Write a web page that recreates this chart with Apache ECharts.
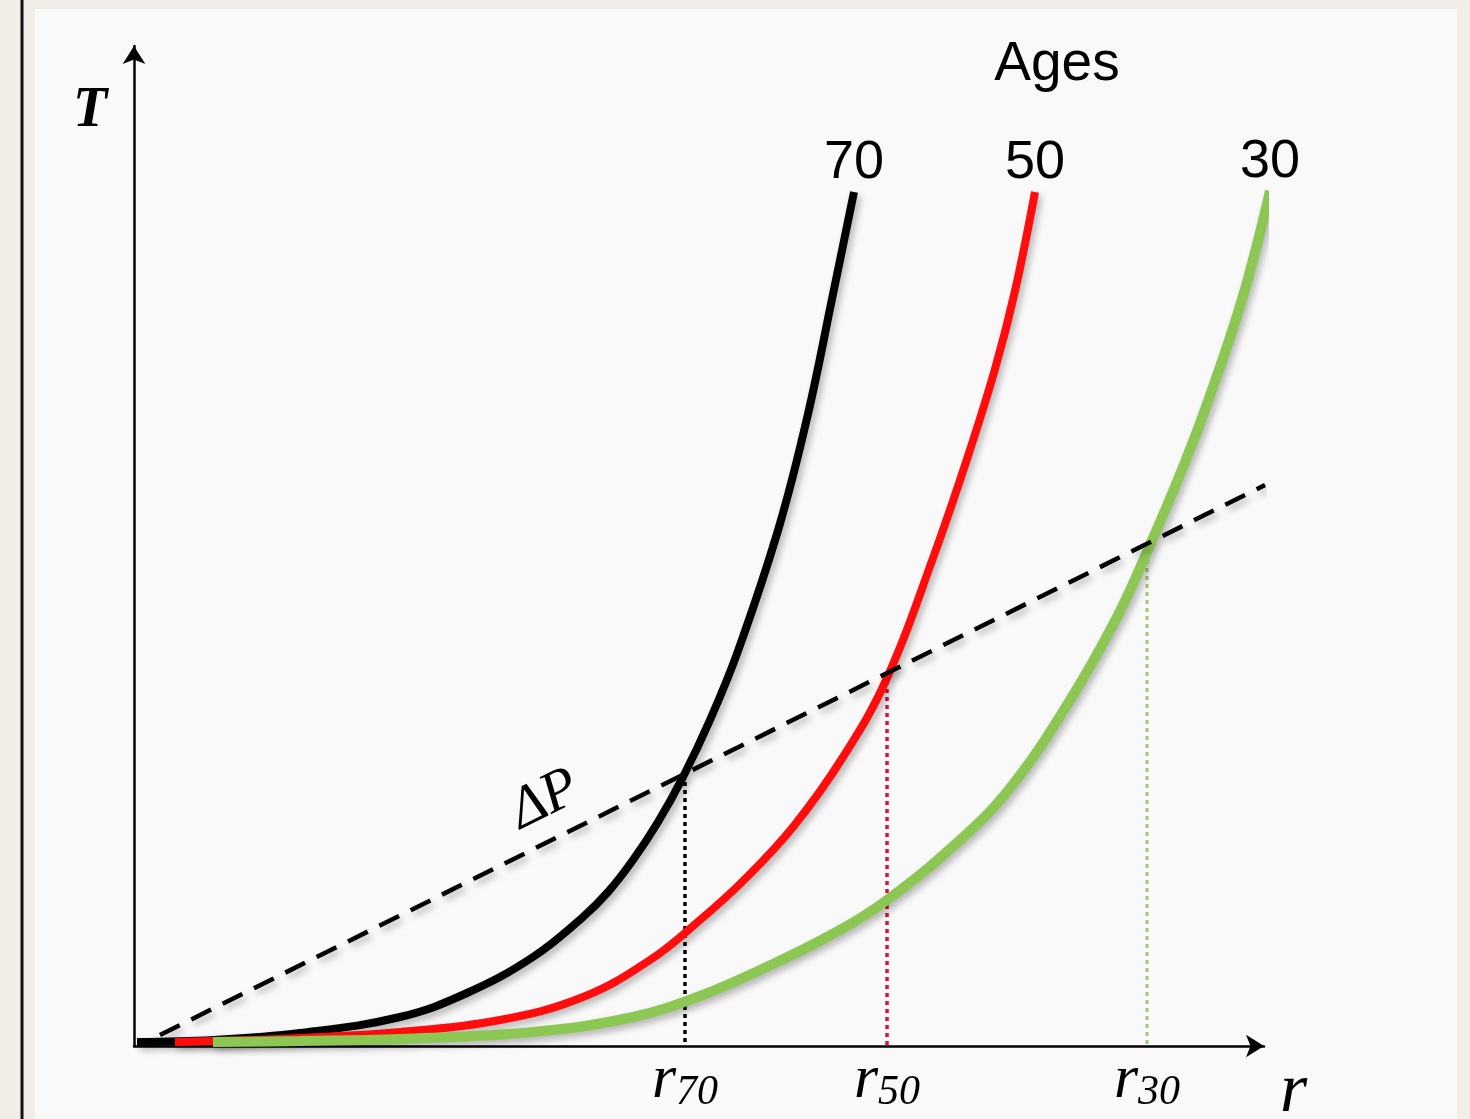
<!DOCTYPE html>
<html lang="en">
<head>
    <meta charset="UTF-8">
    <title>T vs r by age</title>
    <style type="text/css">
        html, body {
            margin: 0;
            padding: 0;
            background: #f1eee7;
        }

        #chart {
            width: 1470px;
            height: 1119px;
        }
    </style>
</head>
<body>
<div id="chart"></div>
<script src="https://cdn.jsdelivr.net/npm/echarts@6/dist/echarts.min.js" type="text/javascript"></script>
<script type="text/javascript">
    // curve points, [r, T]
    const ages = ['70', '50', '30'];
    const curve70 = [[0.3, 0.4], [8.0, 0.6], [16.6, 1.3], [26.6, 2.9], [33.3, 5.3], [39.9, 8.9], [44.9, 12.9],
        [47.4, 15.4], [49.9, 18.6], [52.4, 22.4], [54.9, 26.9], [57.6, 32.6], [60.4, 39.5], [64.5, 51.9],
        [67.4, 63.2], [69.8, 74.7], [72.0, 85.4]];
    const curve50 = [[4.1, 0.4], [11.6, 0.6], [16.6, 0.8], [26.6, 1.4], [36.6, 2.6], [44.9, 4.9], [51.6, 8.6],
        [56.6, 12.6], [60.9, 16.5], [65.9, 21.9], [70.9, 28.9], [75.3, 36.8], [79.9, 48.8], [83.3, 58.7],
        [86.1, 67.7], [88.1, 75.5], [90.1, 85.4]];
    const curve30 = [[7.9, 0.4], [16.6, 0.5], [26.6, 0.7], [39.9, 1.4], [49.9, 2.9], [56.6, 5.0], [62.6, 7.6],
        [69.3, 10.9], [75.3, 14.6], [82.6, 20.6], [87.6, 25.8], [93.3, 34.1], [98.3, 42.9], [101.6, 50.1],
        [104.9, 57.9], [107.3, 64.2], [110.9, 75.0], [113.6, 85.5]];
    // dashed pressure line
    const deltaP = [[2.6, 1.1], [113.1, 56.1]];
    const deltaPLabelAt = [41.1, 24.6];
    // crossing points of the dashed line with each curve
    const crossR = [55.1, 75.3, 101.3];
    const crossT = [27.2, 37.3, 50.2];
    const rSubs = ['70', '50', '30'];

    const colors = ['#000000', '#ff0d0d', '#8cc653'];
    const dotColors = ['#000000', '#e0103a', '#9acb6c'];
    const widths = [8, 8, 10];
    const shadow = {
        shadowColor: 'rgba(0,0,0,0.28)',
        shadowBlur: 7,
        shadowOffsetX: 3,
        shadowOffsetY: 4
    };
    const serif = '"Liberation Serif", "DejaVu Serif", serif';
    const sans = '"Liberation Sans", Arial, sans-serif';

    const chart = echarts.init(document.getElementById('chart'));

    let series = [];
    [curve70, curve50, curve30].forEach(function (curve, i) {
        series.push({
            name: ages[i],
            type: 'line',
            data: curve,
            smooth: 0.4,
            showSymbol: false,
            clip: false,
            z: 3 + i,
            lineStyle: Object.assign({color: colors[i], width: widths[i], cap: 'butt'}, shadow)
        });
    });
    series.push({
        name: 'deltaP',
        type: 'line',
        data: deltaP,
        showSymbol: false,
        z: 7,
        lineStyle: Object.assign({color: '#000', width: 4.5, type: [22, 13]}, shadow)
    });
    crossR.forEach(function (r, i) {
        series.push({
            name: 'r' + rSubs[i],
            type: 'line',
            data: [[r, crossT[i]], [r, 0]],
            showSymbol: false,
            z: 2,
            lineStyle: {color: dotColors[i], width: i === 2 ? 3 : 3.5, type: [4, 4]}
        });
    });
    // age numbers above the curve ends
    series.push({
        type: 'scatter',
        data: [curve70[curve70.length - 1], curve50[curve50.length - 1], curve30[curve30.length - 1]],
        symbolSize: 0,
        clip: false,
        silent: true,
        itemStyle: {opacity: 1},
        label: {
            show: true,
            position: 'top',
            distance: 2,
            formatter: p => ages[p.dataIndex],
            fontFamily: sans,
            fontSize: 54,
            color: '#000'
        }
    });
    series.push({
        type: 'scatter',
        data: [deltaPLabelAt],
        symbolSize: 0,
        silent: true,
        itemStyle: {opacity: 1},
        label: {
            show: true,
            position: 'inside',
            rotate: 26.5,
            formatter: 'ΔP',
            fontFamily: serif,
            fontStyle: 'italic',
            fontSize: 58,
            color: '#000'
        }
    });

    const option = {
        backgroundColor: '#f1eee7',
        animation: false,
        title: {
            text: 'Ages',
            left: 1052,
            top: 32,
            textAlign: 'center',
            textStyle: {fontFamily: sans, fontSize: 55, fontWeight: 'normal', color: '#000'}
        },
        graphic: [
            {type: 'rect', shape: {x: 35, y: 9, width: 1422, height: 1110}, style: {fill: '#f9f9f9'}, z: -10},
            {type: 'line', shape: {x1: 22, y1: 0, x2: 22, y2: 1119}, style: {stroke: '#111', lineWidth: 3}, z: -10}
        ],
        grid: {left: 134, right: 206, top: 46, bottom: 73, outerBoundsMode: 'none'},
        xAxis: {
            type: 'value',
            min: 0,
            max: 113,
            name: 'r',
            nameLocation: 'end',
            nameGap: 16,
            nameTextStyle: {
                fontFamily: serif, fontStyle: 'italic', fontSize: 70, color: '#000',
                align: 'left', verticalAlign: 'top', lineHeight: 70, padding: [12, 0, 0, 0]
            },
            axisLine: {lineStyle: {color: '#000', width: 2.5}, symbol: ['none', 'arrow'], symbolSize: [17, 18]},
            axisTick: {show: false},
            splitLine: {show: false},
            axisLabel: {
                customValues: crossR,
                margin: 2,
                formatter: function (v) {
                    let i = crossR.findIndex(c => Math.abs(c - v) < 1e-6);
                    return '{r|r}{s|' + rSubs[i] + '}';
                },
                rich: {
                    r: {fontFamily: serif, fontStyle: 'italic', fontSize: 62, color: '#000'},
                    s: {fontFamily: serif, fontStyle: 'italic', fontSize: 42, color: '#000', padding: [24, 0, 0, 0]}
                }
            }
        },
        yAxis: {
            type: 'value',
            min: 0,
            max: 100,
            name: 'T',
            nameLocation: 'end',
            nameGap: -66,
            nameTextStyle: {
                fontFamily: serif, fontStyle: 'italic', fontWeight: 'bold', fontSize: 56, color: '#000',
                align: 'center', verticalAlign: 'middle', padding: [0, 88, 0, 0]
            },
            axisLine: {lineStyle: {color: '#000', width: 2.5}, symbol: ['none', 'arrow'], symbolSize: [17, 18]},
            axisTick: {show: false},
            axisLabel: {show: false},
            splitLine: {show: false}
        },
        series: series
    };
    chart.setOption(option);
</script>
</body>
</html>
